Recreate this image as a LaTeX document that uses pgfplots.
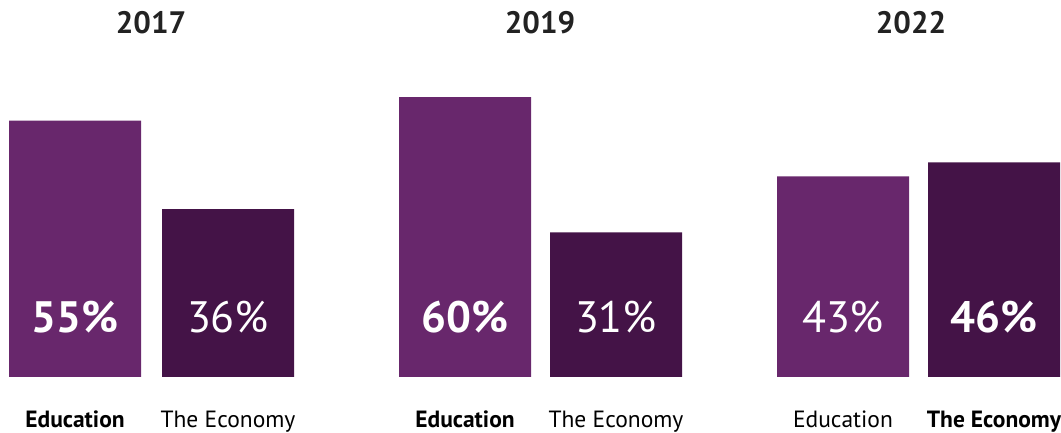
\documentclass[border=0pt]{standalone}
\usepackage{fontspec}
\setmainfont{PT Sans}
\usepackage{pgfplots}
\pgfplotsset{compat=1.18}

\definecolor{edu}{HTML}{68276C}
\definecolor{eco}{HTML}{441347}
\definecolor{ttl}{HTML}{222222}

% bar centres in px; y in percent (4.663 px per %)
\pgfplotstableread{
x   v
75  55
465 60
843 43
}\edu
\pgfplotstableread{
x   v
228 36
616 31
994 46
}\eco

\begin{document}
\begin{tikzpicture}
\begin{axis}[
    scale only axis,
    width=1061pt, height=433pt,
    xmin=0, xmax=1061,
    ymin=-12.01, ymax=80.85,
    hide axis,
    clip=false,
    ybar, bar width=132, bar shift=0pt,
]
\addplot[fill=edu, draw=none] table[x=x, y=v] {\edu};
\addplot[fill=eco, draw=none] table[x=x, y=v] {\eco};

% year titles
\tikzset{yr/.style={anchor=base, text=ttl, font=\fontsize{31}{31}\selectfont\bfseries}}
\node[yr] at (axis cs:151,73.77) {2017};
\node[yr] at (axis cs:540,73.77) {2019};
\node[yr] at (axis cs:911,73.77) {2022};
% values inside bars
\tikzset{val/.style={anchor=base, text=white, font=\fontsize{44}{44}\selectfont}}
\node[val, font=\fontsize{44}{44}\selectfont\bfseries] at (axis cs:75,9.44) {55\%};
\node[val] at (axis cs:228,9.44) {36\%};
\node[val, font=\fontsize{44}{44}\selectfont\bfseries] at (axis cs:465,9.44) {60\%};
\node[val] at (axis cs:616,9.44) {31\%};
\node[val] at (axis cs:843,9.44) {43\%};
\node[val, font=\fontsize{44}{44}\selectfont\bfseries] at (axis cs:994,9.44) {46\%};
% category labels
\tikzset{cat/.style={anchor=base, text=black, font=\fontsize{23.5}{23.5}\selectfont}}
\node[cat, font=\fontsize{23.5}{23.5}\selectfont\bfseries] at (axis cs:75,-10.85) {Education};
\node[cat] at (axis cs:228,-10.85) {The Economy};
\node[cat, font=\fontsize{23.5}{23.5}\selectfont\bfseries] at (axis cs:465,-10.85) {Education};
\node[cat] at (axis cs:616,-10.85) {The Economy};
\node[cat] at (axis cs:843,-10.85) {Education};
\node[cat, font=\fontsize{23.5}{23.5}\selectfont\bfseries] at (axis cs:994,-10.85) {The Economy};
\end{axis}
\pgfresetboundingbox
\path (current axis.south west) rectangle (current axis.north east);
\end{tikzpicture}
\end{document}
